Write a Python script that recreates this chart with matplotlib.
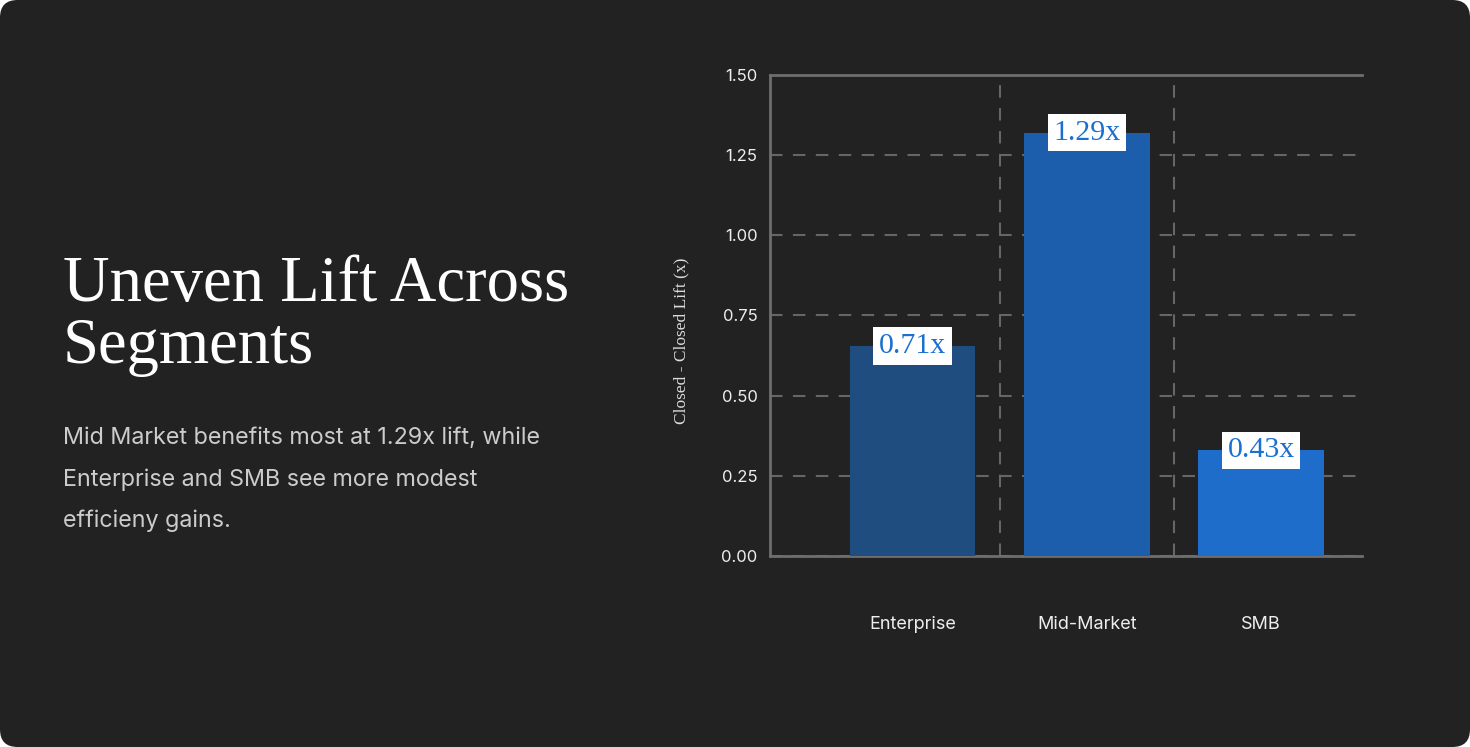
import matplotlib.pyplot as plt
from matplotlib.patches import FancyBboxPatch

# data
segments = ["Enterprise", "Mid-Market", "SMB"]
lift = [0.655, 1.32, 0.33]
lift_labels = ["0.71x", "1.29x", "0.43x"]
bar_colors = ["#1f4d80", "#1c5eab", "#1e6dcb"]
yticks = [0.0, 0.25, 0.5, 0.75, 1.0, 1.25, 1.5]

W, H = 1470, 747
bg = "#222222"

fig = plt.figure(figsize=(W / 100, H / 100), dpi=100, facecolor="white")

# rounded dark card
card = FancyBboxPatch((0, 0), 1, 1, boxstyle="round,pad=0,rounding_size=0.012",
                      transform=fig.transFigure, facecolor=bg, edgecolor="none",
                      mutation_aspect=W / H, zorder=-10)
fig.patches.append(card)

# title + text on the left
title_lines = ["Uneven Lift Across", "Segments"]
for i, line in enumerate(title_lines):
    fig.text(63 / W, 1 - (301 + 62 * i) / H, line, family="Liberation Serif",
             fontsize=46.5, color="white", va="baseline", ha="left")

sub_lines = ["Mid Market benefits most at 1.29x lift, while",
             "Enterprise and SMB see more modest",
             "efficieny gains."]
for i, line in enumerate(sub_lines):
    fig.text(63 / W, 1 - (438 + 41.5 * i) / H, line, family="Inter",
             fontsize=16.8, color="#cccccc", va="center", ha="left")

# chart
ax = fig.add_axes([770 / W, (H - 556) / H, (1362 - 770) / W, (556 - 75) / H])
ax.set_facecolor("none")
x = range(len(segments))
ax.bar(x, lift, width=0.72, color=bar_colors, zorder=3)

ax.set_xlim(-0.82, 2.58)
ax.set_ylim(0, 1.5)
ax.set_yticks(yticks)
ax.set_yticklabels(["%.2f" % v for v in yticks])
ax.set_xticks(list(x))
ax.set_xticklabels(segments)
ax.set_xticks([0.5, 1.5], minor=True)

ax.tick_params(axis="both", which="both", length=0, colors="#eeeeee")
ax.tick_params(axis="y", labelsize=12, pad=9)
ax.tick_params(axis="x", labelsize=13, pad=43)
for lab in ax.get_xticklabels() + ax.get_yticklabels():
    lab.set_family("Inter")

ax.grid(axis="y", which="major", color="#666666", linestyle=(0, (6, 5)), linewidth=1.5, zorder=1)
ax.grid(axis="x", which="minor", color="#666666", linestyle=(0, (6, 5)), linewidth=1.5, zorder=1)
ax.grid(axis="x", which="major", visible=False)

for side in ["left", "bottom", "top"]:
    ax.spines[side].set_color("#6e6e6e")
    ax.spines[side].set_linewidth(2)
ax.spines["right"].set_visible(False)

for xi, v, lab in zip(x, lift, lift_labels):
    ax.text(xi, v, lab, ha="center", va="center", family="Liberation Serif",
            fontsize=21.5, color="#1a6fd0", zorder=5,
            bbox=dict(facecolor="white", edgecolor="none", pad=4))

fig.text(681 / W, 1 - 341 / H, "Closed - Closed Lift (x)", rotation=90,
         family="Liberation Serif", fontsize=12.5, color="#dddddd",
         ha="center", va="center")

fig.savefig("out.png", dpi=100, facecolor="white")
